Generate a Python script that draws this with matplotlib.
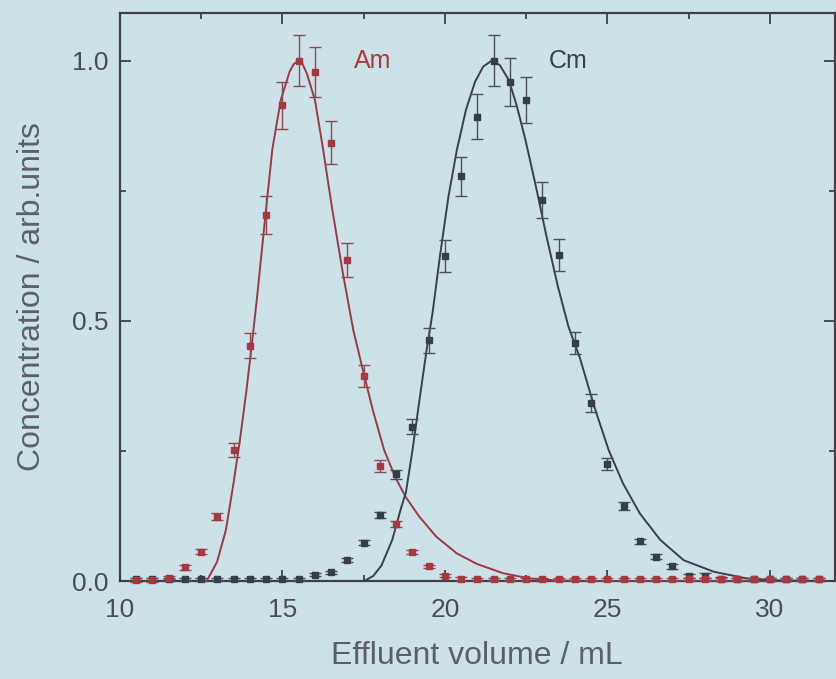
import matplotlib
matplotlib.use("Agg")
import matplotlib.pyplot as plt
from matplotlib.ticker import MultipleLocator

plt.rcParams['font.family'] = ['Liberation Sans', 'DejaVu Sans']

# fraction volumes (mL), one fraction every 0.5 mL
volume = [10.5, 11.0, 11.5, 12.0, 12.5, 13.0, 13.5, 14.0, 14.5, 15.0, 15.5,
          16.0, 16.5, 17.0, 17.5, 18.0, 18.5, 19.0, 19.5, 20.0, 20.5, 21.0,
          21.5, 22.0, 22.5, 23.0, 23.5, 24.0, 24.5, 25.0, 25.5, 26.0, 26.5,
          27.0, 27.5, 28.0, 28.5, 29.0, 29.5, 30.0, 30.5, 31.0, 31.5]

am_conc = [0.002, 0.002, 0.006, 0.026, 0.056, 0.124, 0.252, 0.452, 0.704, 0.915, 1.0,
           0.978, 0.843, 0.617, 0.394, 0.221, 0.109, 0.056, 0.028, 0.010, 0.004, 0.003,
           0.003, 0.003, 0.003, 0.003, 0.003, 0.003, 0.003, 0.003, 0.003, 0.003, 0.003,
           0.003, 0.003, 0.003, 0.003, 0.003, 0.003, 0.003, 0.003, 0.003, 0.003]
am_err = [0.003, 0.003, 0.003, 0.004, 0.005, 0.006, 0.013, 0.024, 0.037, 0.045, 0.049,
          0.048, 0.041, 0.032, 0.021, 0.012, 0.006, 0.004, 0.003, 0.003, 0.003, 0.003,
          0.003, 0.003, 0.003, 0.003, 0.003, 0.003, 0.003, 0.003, 0.003, 0.003, 0.003,
          0.003, 0.003, 0.003, 0.003, 0.003, 0.003, 0.003, 0.003, 0.003, 0.003]

cm_conc = [0.003, 0.003, 0.003, 0.003, 0.003, 0.003, 0.003, 0.003, 0.003, 0.003, 0.003,
           0.012, 0.017, 0.040, 0.074, 0.127, 0.205, 0.297, 0.463, 0.625, 0.778, 0.893,
           1.0, 0.959, 0.925, 0.733, 0.627, 0.457, 0.342, 0.225, 0.144, 0.076, 0.047,
           0.028, 0.009, 0.010, 0.004, 0.003, 0.003, 0.003, 0.003, 0.003, 0.003]
cm_err = [0.003, 0.003, 0.003, 0.003, 0.003, 0.003, 0.003, 0.003, 0.003, 0.003, 0.003,
          0.003, 0.003, 0.004, 0.004, 0.005, 0.008, 0.015, 0.024, 0.031, 0.038, 0.043,
          0.049, 0.046, 0.044, 0.035, 0.030, 0.021, 0.018, 0.011, 0.008, 0.005, 0.004,
          0.004, 0.004, 0.005, 0.003, 0.003, 0.003, 0.003, 0.003, 0.003, 0.003]

# fitted elution curves
am_fit_x = [12.67, 12.99, 13.26, 13.5, 13.69, 13.88, 14.05, 14.21, 14.48, 14.69,
            14.95, 15.22, 15.35, 15.49, 15.62, 15.75, 16.0, 16.24, 16.52, 16.86,
            17.18, 17.46, 17.78, 18.13, 18.47, 18.79, 19.21, 19.74, 20.37, 20.98,
            21.79, 22.6, 23.5, 24.5, 31.8]
am_fit_y = [0.0, 0.037, 0.098, 0.19, 0.27, 0.36, 0.45, 0.54, 0.705, 0.83,
            0.925, 0.979, 0.994, 1.0, 0.994, 0.976, 0.925, 0.835, 0.72, 0.592,
            0.483, 0.41, 0.329, 0.252, 0.2, 0.162, 0.124, 0.085, 0.053, 0.033,
            0.015, 0.005, 0.001, 0.0, 0.0]

cm_fit_x = [17.52, 17.8, 18.05, 18.38, 18.65, 18.8, 19.0, 19.2, 19.44, 19.62,
            19.86, 20.11, 20.37, 20.65, 20.93, 21.18, 21.43, 21.69, 21.97, 22.22,
            22.48, 22.78, 23.13, 23.48, 23.8, 24.16, 24.6, 25.04, 25.48, 26.0,
            26.63, 27.35, 28.27, 29.28, 30.3, 31.8]
cm_fit_y = [0.0, 0.01, 0.03, 0.079, 0.14, 0.17, 0.25, 0.34, 0.445, 0.515,
            0.63, 0.739, 0.829, 0.906, 0.96, 0.989, 1.0, 0.992, 0.963, 0.912,
            0.848, 0.765, 0.662, 0.566, 0.49, 0.428, 0.335, 0.252, 0.188, 0.13,
            0.079, 0.04, 0.018, 0.005, 0.001, 0.0]

bg = '#cde1e8'
am_color = '#a8383f'
cm_color = '#383d4a'
am_line = '#9a3a47'
cm_line = '#3a4050'
axis_color = '#3e4248'
text_color = '#4a4d52'

fig = plt.figure(figsize=(8.36, 6.79), dpi=100, facecolor=bg)
ax = fig.add_axes([0.1435, 0.1443, 0.855, 0.8365], facecolor=bg)

ax.plot(am_fit_x, am_fit_y, '-', color=am_line, lw=1.4, zorder=3)
ax.plot(cm_fit_x, cm_fit_y, '-', color=cm_line, lw=1.4, zorder=3)

ax.errorbar(volume, cm_conc, yerr=cm_err, fmt='s', color=cm_color, ms=4.5,
            ecolor='#4a4f5a', elinewidth=1.0, capsize=4.5, capthick=1.0,
            zorder=4, clip_on=False)
ax.errorbar(volume, am_conc, yerr=am_err, fmt='s', color=am_color, ms=4.5,
            ecolor='#8e4a50', elinewidth=1.0, capsize=4.5, capthick=1.0,
            zorder=5, clip_on=False)

ax.text(17.2, 1.0, 'Am', color=am_color, fontsize=18, ha='left', va='center')
ax.text(23.2, 1.0, 'Cm', color='#3c3f46', fontsize=18, ha='left', va='center')

ax.set_xlim(10, 32)
ax.set_ylim(0, 1.092)
ax.xaxis.set_major_locator(MultipleLocator(5))
ax.xaxis.set_minor_locator(MultipleLocator(2.5))
ax.set_yticks([0.0, 0.5, 1.0])
ax.yaxis.set_minor_locator(MultipleLocator(0.25))

ax.tick_params(which='both', direction='in', top=True, right=True,
               color=axis_color, width=1.3)
ax.tick_params(which='major', length=8, labelsize=19, labelcolor=text_color, pad=8)
ax.tick_params(which='minor', length=4.5)
ax.tick_params(axis='x', which='major', pad=12)

for s in ax.spines.values():
    s.set_color(axis_color)
    s.set_linewidth(1.6)

ax.set_xlabel('Effluent volume / mL', fontsize=23, color='#5c6066', labelpad=14)
ax.set_ylabel('Concentration / arb.units', fontsize=23, color='#5c6066', labelpad=18)

fig.savefig('out.png', dpi=100, facecolor=bg)
